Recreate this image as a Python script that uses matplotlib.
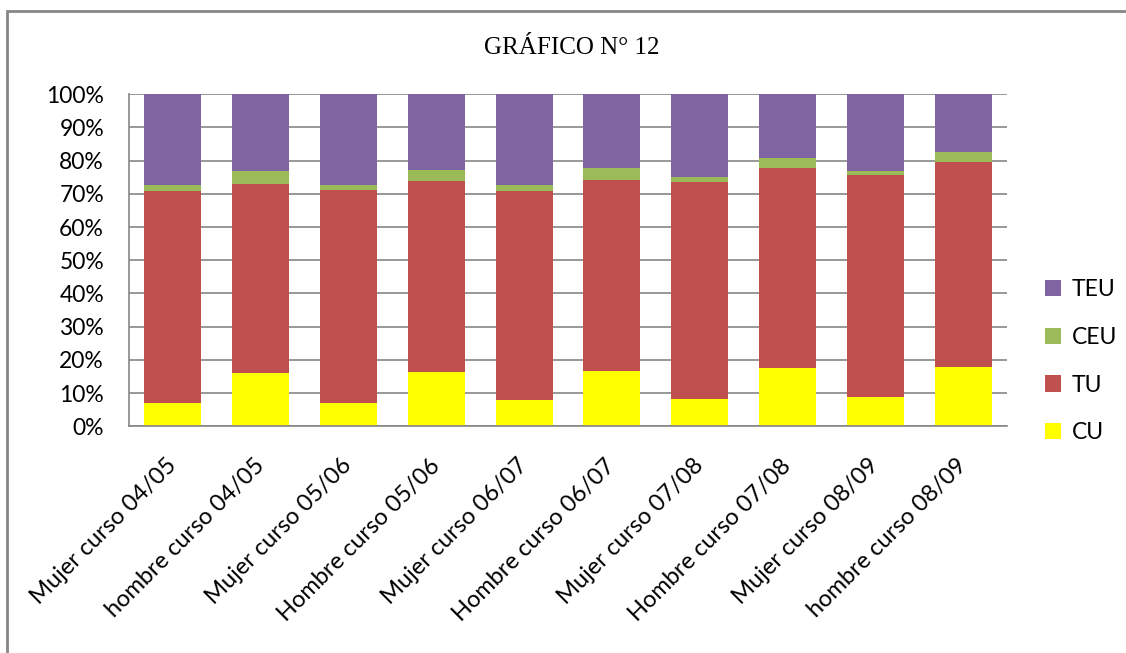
import numpy as np
import matplotlib
matplotlib.use("Agg")
import matplotlib.pyplot as plt
from matplotlib.patches import Rectangle

# categories and shares (%)
categories = ['Mujer curso 04/05', 'hombre curso 04/05', 'Mujer curso 05/06',
              'Hombre curso 05/06', 'Mujer curso 06/07', 'Hombre curso 06/07',
              'Mujer curso 07/08', 'Hombre curso 07/08', 'Mujer curso 08/09',
              'hombre curso 08/09']
cu = [7.0, 16.0, 7.0, 16.3, 7.9, 16.6, 8.2, 17.6, 8.8, 17.9]
tu = [63.9, 57.0, 64.2, 57.6, 63.0, 57.6, 65.4, 60.2, 66.9, 61.7]
ceu = [1.8, 3.9, 1.5, 3.3, 1.8, 3.6, 1.5, 3.0, 1.2, 3.0]
teu = [27.3, 23.1, 27.3, 22.8, 27.3, 22.2, 24.9, 19.2, 23.1, 17.4]

series = [('CU', cu, '#FFFF00'), ('TU', tu, '#C0504D'),
          ('CEU', ceu, '#9BBB59'), ('TEU', teu, '#8064A2')]

plt.rcParams['font.family'] = ['Lato', 'DejaVu Sans']

fig = plt.figure(figsize=(11.26, 6.53), dpi=100)
ax = fig.add_axes([0.1146, 0.3472, 0.7797, 0.5084])

x = np.arange(len(categories))
bottom = np.zeros(len(categories))
handles = []
for name, vals, col in series:
    b = ax.bar(x, vals, width=0.65, bottom=bottom, color=col, label=name, zorder=2)
    handles.append(b)
    bottom += np.array(vals)

ax.set_xlim(-0.5, len(categories) - 0.5)
ax.set_ylim(0, 100)
ax.set_yticks(np.arange(0, 101, 10))
ax.set_yticklabels([f'{v}%' for v in range(0, 101, 10)], fontsize=16.5)
ax.yaxis.grid(True, color='#868686', linewidth=1.2, zorder=0)
ax.tick_params(axis='y', length=0, pad=18)

ax.set_xticks(x)
ax.set_xticklabels(categories, rotation=45, ha='right', va='center',
                   rotation_mode='anchor', fontsize=17)
ax.tick_params(axis='x', length=0, pad=26)

for s in ['top', 'right']:
    ax.spines[s].set_visible(False)
for s in ['left', 'bottom']:
    ax.spines[s].set_color('#868686')
    ax.spines[s].set_linewidth(1.2)

# legend in reversed order like the original
leg = fig.legend(handles[::-1], [h.get_label() for h in handles[::-1]],
                 loc='center left', bbox_to_anchor=(0.91, 0.447),
                 frameon=False, fontsize=16.5, handlelength=0.7, handleheight=0.7,
                 handletextpad=0.45, labelspacing=1.17)

fig.text(0.508, 0.927, 'GRÁFICO N° 12', ha='center', va='center',
         fontsize=18, family='Liberation Serif')

# outer chart border (only top and left are visible in the picture)
fig.patches.append(Rectangle((7 / 1126, -0.1), 1.2, 1.1 - 11 / 653,
                             transform=fig.transFigure, fill=False,
                             edgecolor='#868686', linewidth=2))

fig.savefig('out.png', dpi=100)
